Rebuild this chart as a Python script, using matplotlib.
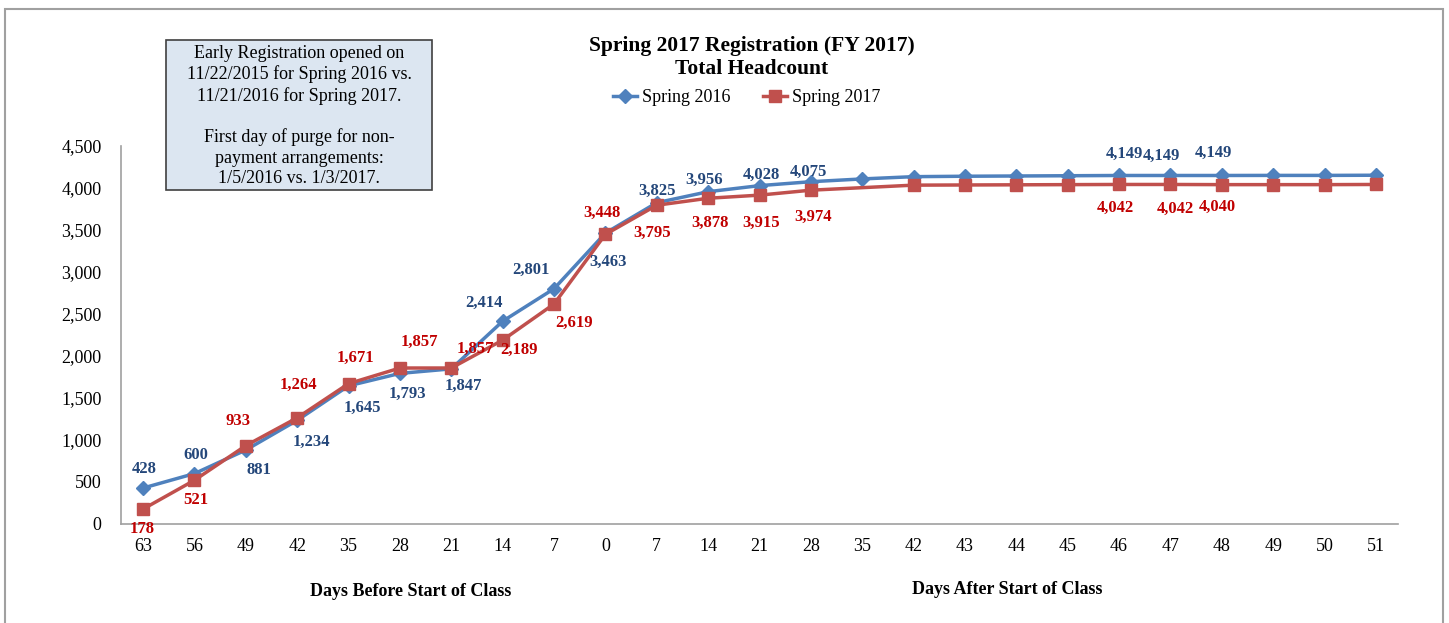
import numpy as np
import matplotlib.pyplot as plt
from matplotlib.patches import Rectangle
from matplotlib.ticker import FuncFormatter

# catégories (jours avant / après le début des cours)
jours = ['63', '56', '49', '42', '35', '28', '21', '14', '7', '0', '7', '14', '21', '28',
         '35', '42', '43', '44', '45', '46', '47', '48', '49', '50', '51']

spring_2016 = [428, 600, 881, 1234, 1645, 1793, 1847, 2414, 2801, 3463, 3825, 3956, 4028, 4075,
               4108, 4135, 4140, 4143, 4146, 4149, 4149, 4149, 4150, 4150, 4152]
# pas de point pour 2017 au jour 35 (après)
idx_2017 = [0, 1, 2, 3, 4, 5, 6, 7, 8, 9, 10, 11, 12, 13, 15, 16, 17, 18, 19, 20, 21, 22, 23, 24]
spring_2017 = [178, 521, 933, 1264, 1671, 1857, 1857, 2189, 2619, 3448, 3795, 3878, 3915, 3974,
               4034, 4036, 4038, 4040, 4042, 4042, 4040, 4040, 4040, 4042]

# étiquettes affichées : (index, décalage x px, décalage y px)
labels_2016 = [(0, 1, 19), (1, 1, 19), (2, 13, -20), (3, 14, -22), (4, 14, -22), (5, 8, -20),
               (6, 12, -17), (7, -19, 18), (8, -23, 19), (9, 3, -29), (10, 0, 12),
               (11, -4, 12), (12, 2, 11), (13, -2, 10), (19, 5, 22), (20, -9, 20),
               (21, -8, 23)]
labels_2017 = [(0, -1, -20), (1, 1, -20), (2, -8, 25), (3, 1, 33), (4, 7, 26), (5, 19, 26),
               (6, 24, 19), (7, 16, -10), (8, 20, -19), (9, -3, 21), (10, -5, -28),
               (11, 2, -25), (12, 2, -28), (13, 2, -27), (19, -4, -23), (20, 5, -24),
               (21, -4, -22)]

plt.rcParams['font.family'] = ['Liberation Serif', 'DejaVu Serif']

fig = plt.figure(figsize=(14.49, 6.23), dpi=100)
ax = fig.add_axes([121 / 1449, 1 - 524 / 623, (1398 - 121) / 1449, (524 - 146) / 623])
ax.patch.set_alpha(0)

x = np.arange(len(jours))
x17 = x[idx_2017]
bleu = '#4F81BD'
rouge = '#C0504D'
ax.plot(x, spring_2016, color=bleu, lw=2.5, marker='D', ms=7, label='Spring 2016', zorder=3)
ax.plot(x17, spring_2017, color=rouge, lw=2.5, marker='s', ms=8, label='Spring 2017', zorder=4)

val_2017 = dict(zip(idx_2017, spring_2017))
for i, dx, dy in labels_2016:
    ax.annotate(f'{spring_2016[i]:,}', (x[i], spring_2016[i]), xytext=(dx, dy),
                textcoords='offset pixels', ha='center', va='center', fontsize=12,
                fontweight='bold', color='#24477A', zorder=5)
for i, dx, dy in labels_2017:
    ax.annotate(f'{val_2017[i]:,}', (x[i], val_2017[i]), xytext=(dx, dy),
                textcoords='offset pixels', ha='center', va='center', fontsize=12,
                fontweight='bold', color='#C00000', zorder=5)

ax.set_xlim(-0.43, len(jours) - 0.57)
ax.set_ylim(0, 4500)
ax.set_yticks(np.arange(0, 4501, 500))
ax.yaxis.set_major_formatter(FuncFormatter(lambda v, p: f'{int(v):,}'))
ax.set_xticks(x)
ax.set_xticklabels(jours)
ax.tick_params(length=0, labelsize=13, colors='black')
ax.tick_params(axis='y', pad=14)
ax.tick_params(axis='x', pad=10)
for s in ['top', 'right']:
    ax.spines[s].set_visible(False)
for s in ['left', 'bottom']:
    ax.spines[s].set_color('#A0A0A0')
    ax.spines[s].set_linewidth(1.2)

fig.text(411 / 1449, 1 - 591 / 623, 'Days Before Start of Class', ha='center', va='center',
         fontsize=13, fontweight='bold')
fig.text(1007 / 1449, 1 - 590 / 623, 'Days After Start of Class', ha='center', va='center',
         fontsize=13, fontweight='bold')

fig.text(752 / 1449, 1 - 58 / 623, 'Spring 2017 Registration (FY 2017)\nTotal Headcount',
         ha='center', va='center', fontsize=15.5, fontweight='bold', linespacing=1.2)

fig.legend(loc='center', bbox_to_anchor=(747 / 1449, 1 - 98 / 623), ncol=2, frameon=False,
           fontsize=13, handlelength=1.3, handletextpad=0.3, columnspacing=1.8)

# encadré de texte
fig.text(299 / 1449, 1 - 116 / 623,
         'Early Registration opened on\n11/22/2015 for Spring 2016 vs.\n11/21/2016 for Spring 2017.\n\n'
         'First day of purge for non-\npayment arrangements:\n1/5/2016 vs. 1/3/2017.',
         ha='center', va='center', fontsize=13, linespacing=1.25, zorder=6)
fig.patches.append(Rectangle((166 / 1449, 1 - 190 / 623), 266 / 1449, 150 / 623,
                             transform=fig.transFigure, facecolor='#DCE6F1',
                             edgecolor='#404040', lw=1.2, zorder=5))

# cadre de la figure
fig.patches.append(Rectangle((5 / 1449, -0.1), 1438 / 1449, 1.1 - 9 / 623,
                             transform=fig.transFigure, facecolor='none',
                             edgecolor='#A0A0A0', lw=1.5))

fig.savefig('out.png', dpi=100)
